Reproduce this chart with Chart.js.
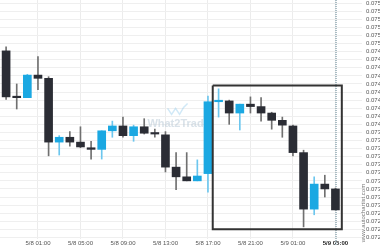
<!DOCTYPE html>
<html>
<head>
<meta charset="utf-8">
<script src="https://cdn.jsdelivr.net/npm/chart.js@4"></script>
<style>
  html, body { margin: 0; padding: 0; background: #fff; }
  #wrap { width: 380px; height: 250px; }
</style>
</head>
<body>
<div id="wrap"><canvas id="myChart" width="380" height="250"></canvas></div>
<script>
// hourly candles, 5/7 22:00 -> 5/9 05:00
const hours = [
  '5/7 22:00', '5/7 23:00', '5/8 00:00', '5/8 01:00', '5/8 02:00', '5/8 03:00', '5/8 04:00', '5/8 05:00',
  '5/8 06:00', '5/8 07:00', '5/8 08:00', '5/8 09:00', '5/8 10:00', '5/8 11:00', '5/8 12:00', '5/8 13:00',
  '5/8 14:00', '5/8 15:00', '5/8 16:00', '5/8 17:00', '5/8 18:00', '5/8 19:00', '5/8 20:00', '5/8 21:00',
  '5/8 22:00', '5/8 23:00', '5/9 00:00', '5/9 01:00', '5/9 02:00', '5/9 03:00', '5/9 04:00', '5/9 05:00'
];
const opens  = [0.07491, 0.07434, 0.07433, 0.07461, 0.07457, 0.07378, 0.07384, 0.07378,
                0.07371, 0.07369, 0.07392, 0.07398, 0.07386, 0.07397, 0.07389, 0.07387,
                0.07347, 0.07335, 0.07330, 0.07339, 0.07428, 0.07429, 0.07414, 0.07425,
                0.07422, 0.07414, 0.07405, 0.07398, 0.07365, 0.07295, 0.07326, 0.07320];
const highs  = [0.07496, 0.07450, 0.07462, 0.07484, 0.07459, 0.07386, 0.07391, 0.07397,
                0.07379, 0.07392, 0.07404, 0.07409, 0.07399, 0.07407, 0.07394, 0.07391,
                0.07365, 0.07365, 0.07356, 0.07435, 0.07444, 0.07430, 0.07425, 0.07434,
                0.07433, 0.07415, 0.07409, 0.07399, 0.07368, 0.07335, 0.07337, 0.07321];
const lows   = [0.07431, 0.07419, 0.07433, 0.07443, 0.07361, 0.07362, 0.07373, 0.07371,
                0.07357, 0.07357, 0.07384, 0.07384, 0.07379, 0.07388, 0.07384, 0.07341,
                0.07319, 0.07330, 0.07330, 0.07316, 0.07409, 0.07400, 0.07393, 0.07414,
                0.07404, 0.07394, 0.07384, 0.07361, 0.07273, 0.07288, 0.07310, 0.07294];
const closes = [0.07434, 0.07433, 0.07461, 0.07457, 0.07378, 0.07384, 0.07378, 0.07372,
                0.07369, 0.07392, 0.07398, 0.07386, 0.07397, 0.07389, 0.07388, 0.07347,
                0.07335, 0.07330, 0.07336, 0.07428, 0.07429, 0.07414, 0.07425, 0.07422,
                0.07414, 0.07405, 0.07399, 0.07365, 0.07295, 0.07326, 0.07320, 0.07294];

// labelled hours on the time axis (indexes into hours)
const tickHours = [3, 7, 11, 15, 19, 23, 27, 31];

// pattern box (hour index range and price range) + current time marker
const boxFrom = 19.45, boxTo = 31.6;
const boxHigh = 0.07448, boxLow = 0.07270;
const nowHour = 31.05;

const yMin = 0.07258, yMax = 0.07554;
const xMin = -0.574, xMax = 33.5;

const UP = '#1ba8e2', DOWN = '#2b2d35';
const isUp = hours.map((h, i) => closes[i] >= opens[i]);

const wicks = hours.map((h, i) => ({ x: i, y: [lows[i], highs[i]] }));
const bodies = hours.map((h, i) => ({ x: i, y: [opens[i], closes[i]] }));

// watermark + vertical site name
const extras = {
  id: 'extras',
  beforeDatasetsDraw(chart) {
    const ctx = chart.ctx;
    const xs = chart.scales.x, ys = chart.scales.y;
    ctx.save();
    ctx.fillStyle = 'rgba(180,198,212,0.5)';
    ctx.font = 'bold 11px "Liberation Sans", Arial, sans-serif';
    ctx.textBaseline = 'middle';
    ctx.fillText('What2Trade', xs.getPixelForValue(13.3), ys.getPixelForValue(0.07400));
    // small logo chevrons
    ctx.strokeStyle = 'rgba(140,200,235,0.4)';
    ctx.lineWidth = 1.5;
    ctx.beginPath();
    const lx = xs.getPixelForValue(15.2), ly = ys.getPixelForValue(0.07416);
    ctx.moveTo(lx, ly - 3); ctx.lineTo(lx + 4, ly + 3); ctx.lineTo(lx + 8, ly - 3);
    ctx.lineTo(lx + 12, ly + 3); ctx.lineTo(lx + 16, ly - 4); ctx.lineTo(lx + 20, ly - 8);
    ctx.stroke();
    ctx.restore();
  },
  afterDraw(chart) {
    const ctx = chart.ctx;
    ctx.save();
    ctx.translate(chart.chartArea.right + 1, chart.chartArea.bottom - 26);
    ctx.rotate(-Math.PI / 2);
    ctx.fillStyle = '#777';
    ctx.font = '6px "Liberation Sans", Arial, sans-serif';
    ctx.textAlign = 'center';
    ctx.textBaseline = 'middle';
    ctx.fillText('www.autochartist.com', 0, 0);
    ctx.restore();
  }
};

const ctx = document.getElementById('myChart').getContext('2d');
const chart = new Chart(ctx, {
  type: 'bar',
  data: {
    datasets: [
      {
        label: 'wick',
        data: wicks,
        backgroundColor: isUp.map(u => u ? '#6cc6ee' : '#707070'),
        barThickness: 1,
        grouped: false,
        order: 3
      },
      {
        label: 'body',
        data: bodies,
        backgroundColor: isUp.map(u => u ? UP : DOWN),
        barThickness: 8,
        minBarLength: 1.5,
        grouped: false,
        order: 2
      },
      {
        type: 'line',
        label: 'box',
        data: [
          { x: boxFrom, y: boxHigh }, { x: boxTo, y: boxHigh },
          { x: boxTo, y: boxLow }, { x: boxFrom, y: boxLow }, { x: boxFrom, y: boxHigh }
        ],
        borderColor: '#333',
        borderWidth: 2,
        pointRadius: 0,
        tension: 0,
        fill: false,
        order: 1
      },
      {
        type: 'line',
        label: 'now',
        data: [{ x: nowHour, y: yMax }, { x: nowHour, y: 0.07250 }],
        borderColor: '#a9bcc4',
        borderWidth: 2,
        borderDash: [1, 1],
        pointRadius: 0,
        fill: false,
        clip: false,
        order: 4
      }
    ]
  },
  options: {
    responsive: false,
    devicePixelRatio: 1,
    animation: false,
    layout: { padding: 0 },
    plugins: {
      legend: { display: false },
      tooltip: { enabled: false }
    },
    scales: {
      x: {
        type: 'linear',
        min: xMin,
        max: xMax,
        offset: false,
        grid: { offset: false, color: '#ececec', drawTicks: false },
        border: { display: false },
        afterBuildTicks: (scale) => { scale.ticks = tickHours.map(v => ({ value: v })); },
        afterFit: (scale) => { scale.height = 11; scale.paddingLeft = 0; scale.paddingRight = 0; },
        ticks: {
          autoSkip: false,
          maxRotation: 0,
          padding: 1,
          color: (c) => c.tick && c.tick.value === 31 ? '#222' : '#555',
          font: (c) => ({
            size: 6,
            weight: c.tick && c.tick.value === 31 ? 'bold' : 'normal',
            family: '"Liberation Sans", Arial, sans-serif'
          }),
          callback: (v) => hours[v] || ''
        }
      },
      y: {
        type: 'linear',
        position: 'right',
        min: yMin,
        max: yMax,
        grid: { color: '#efefef', drawTicks: false },
        border: { display: false },
        afterFit: (scale) => { scale.width = 18; scale.paddingTop = 0; scale.paddingBottom = 0; },
        ticks: {
          stepSize: 0.0001,
          includeBounds: false,
          autoSkip: false,
          maxTicksLimit: 60,
          padding: 4,
          color: '#555',
          font: { size: 6, family: '"Liberation Sans", Arial, sans-serif' },
          callback: (v) => v.toFixed(5)
        }
      }
    }
  },
  plugins: [extras]
});
</script>
</body>
</html>
